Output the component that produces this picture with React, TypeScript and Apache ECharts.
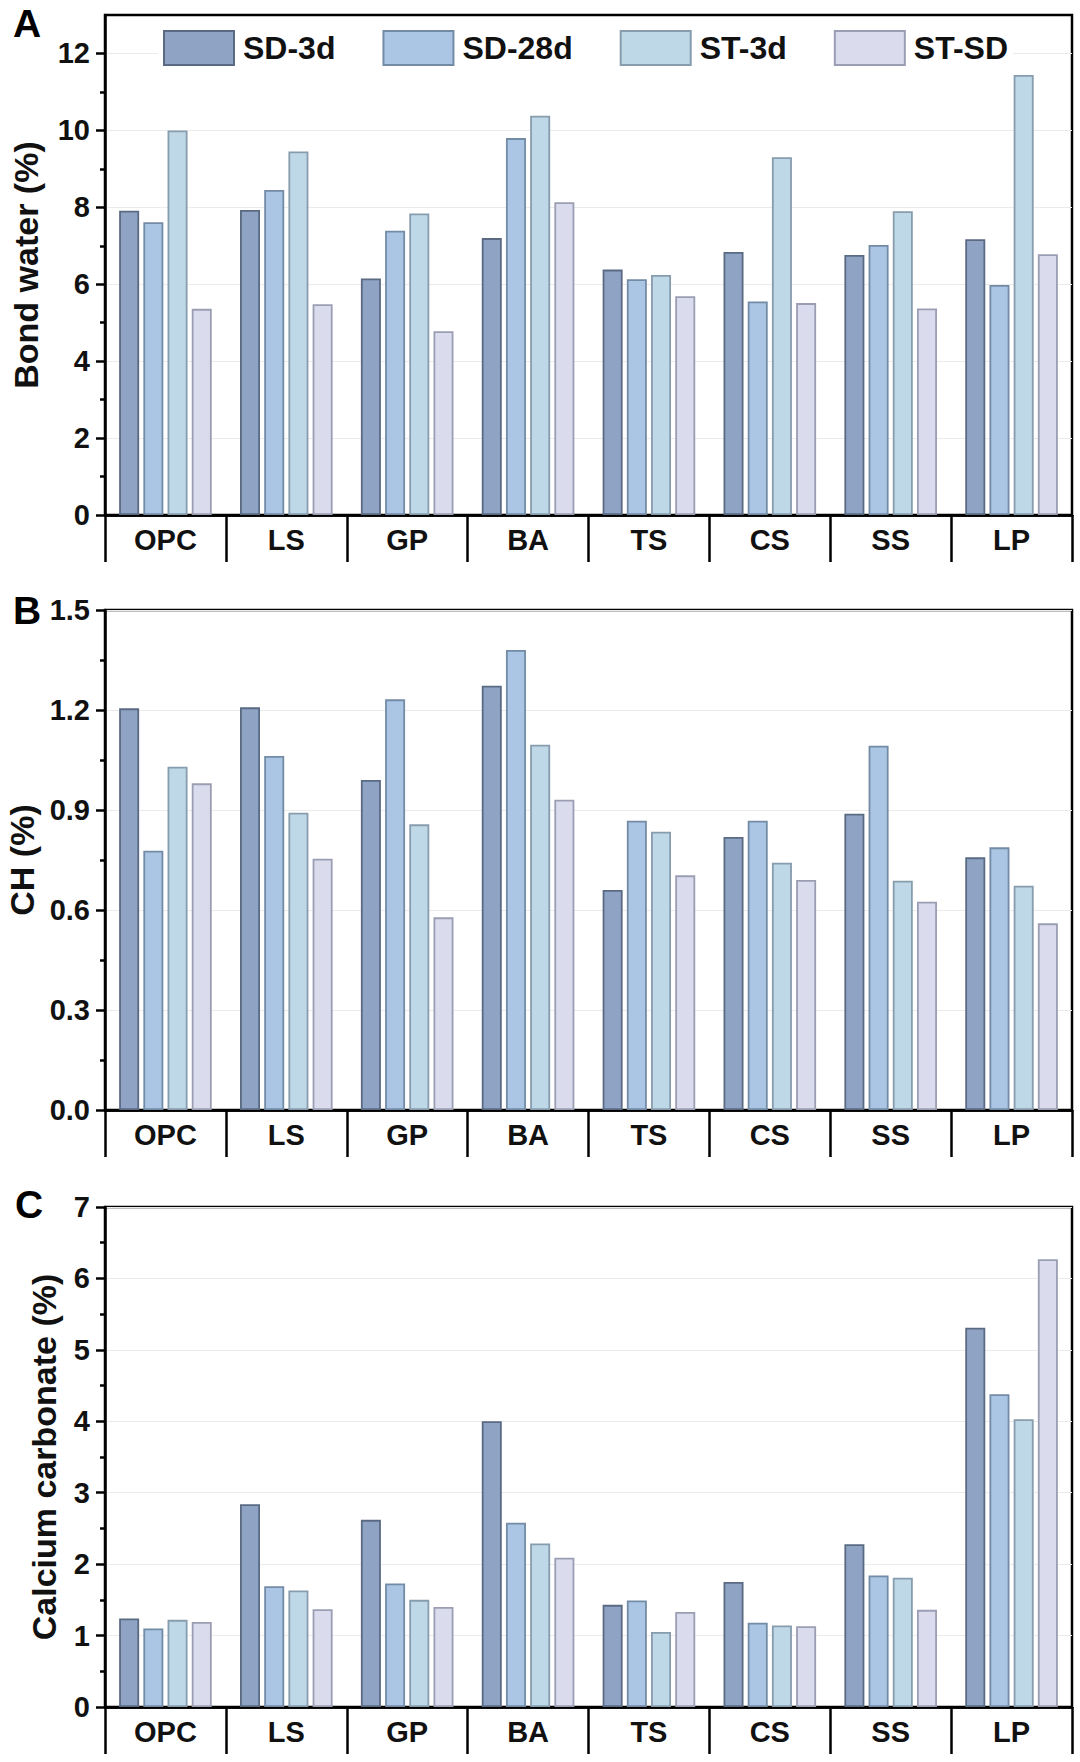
import React, { useEffect, useRef } from "react";
import * as echarts from "echarts";

const categories = ["OPC", "LS", "GP", "BA", "TS", "CS", "SS", "LP"];
const seriesNames = ["SD-3d", "SD-28d", "ST-3d", "ST-SD"];

// Panel A: Bond water (%)
const bondSD3d = [7.91, 7.93, 6.15, 7.2, 6.38, 6.84, 6.76, 7.17];
const bondSD28d = [7.61, 8.45, 7.39, 9.8, 6.13, 5.55, 7.02, 5.98];
const bondST3d = [10.0, 9.45, 7.84, 10.38, 6.24, 9.3, 7.9, 11.44];
const bondSTSD = [5.36, 5.48, 4.78, 8.13, 5.69, 5.51, 5.37, 6.78];

// Panel B: CH (%)
const chSD3d = [1.205, 1.208, 0.99, 1.273, 0.66, 0.819, 0.889, 0.758];
const chSD28d = [0.778, 1.062, 1.232, 1.38, 0.868, 0.868, 1.093, 0.788];
const chST3d = [1.03, 0.892, 0.857, 1.096, 0.835, 0.742, 0.688, 0.673];
const chSTSD = [0.98, 0.754, 0.578, 0.931, 0.704, 0.69, 0.625, 0.56];

// Panel C: Calcium carbonate (%)
const ccSD3d = [1.24, 2.84, 2.62, 4.0, 1.43, 1.75, 2.28, 5.31];
const ccSD28d = [1.1, 1.69, 1.73, 2.58, 1.49, 1.18, 1.84, 4.38];
const ccST3d = [1.22, 1.63, 1.5, 2.29, 1.05, 1.14, 1.81, 4.03];
const ccSTSD = [1.19, 1.37, 1.4, 2.09, 1.33, 1.13, 1.36, 6.27];

// Tick values
const ticksA = [0, 2, 4, 6, 8, 10, 12];
const minorA = [1, 3, 5, 7, 9, 11];
const ticksB = [0, 0.3, 0.6, 0.9, 1.2, 1.5];
const minorB = [0.15, 0.45, 0.75, 1.05, 1.35];
const ticksC = [0, 1, 2, 3, 4, 5, 6, 7];
const minorC = [0.5, 1.5, 2.5, 3.5, 4.5, 5.5, 6.5];

const fills = ["#8fa4c4", "#aac6e4", "#bfd8e8", "#dadcee"];
const borders = ["#5a6a82", "#748ba6", "#879cad", "#9b9eb2"];

const FONT = 'Arial, "Liberation Sans", Helvetica, sans-serif';

export default function App() {
  const ref = useRef<HTMLDivElement>(null);

  useEffect(() => {
    if (!ref.current) return;
    const chart = echarts.init(ref.current, null, { renderer: "svg" });

    const panels = [
      {
        top: 15,
        max: 13,
        ticks: ticksA,
        minor: minorA,
        name: "Bond water (%)",
        nameGap: 62,
        fmt: (v: number) => String(Math.round(v)),
        data: [bondSD3d, bondSD28d, bondST3d, bondSTSD],
      },
      {
        top: 610,
        max: 1.5,
        ticks: ticksB,
        minor: minorB,
        name: "CH (%)",
        nameGap: 66,
        fmt: (v: number) => v.toFixed(1),
        data: [chSD3d, chSD28d, chST3d, chSTSD],
      },
      {
        top: 1207,
        max: 7,
        ticks: ticksC,
        minor: minorC,
        name: "Calcium carbonate (%)",
        nameGap: 44,
        fmt: (v: number) => String(Math.round(v)),
        data: [ccSD3d, ccSD28d, ccST3d, ccSTSD],
      },
    ];

    const grid: any[] = [];
    const xAxis: any[] = [];
    const yAxis: any[] = [];
    const series: any[] = [];

    panels.forEach((p, i) => {
      grid.push({
        left: 105,
        right: 8,
        top: p.top,
        height: 500,
        outerBoundsMode: "none",
        containLabel: false,
        show: true,
        borderColor: "#000",
        borderWidth: 2.5,
        backgroundColor: "transparent",
      });
      xAxis.push({
        type: "category",
        gridIndex: i,
        data: categories,
        boundaryGap: true,
        position: "bottom",
        axisLine: { show: true, lineStyle: { color: "#000", width: 2.5 } },
        axisTick: {
          show: true,
          interval: 0,
          alignWithLabel: false,
          length: 47,
          lineStyle: { color: "#000", width: 2.5 },
        },
        axisLabel: {
          show: true,
          interval: 0,
          margin: 10,
          color: "#111",
          fontSize: 29,
          fontWeight: "bold",
          fontFamily: FONT,
        },
        splitLine: { show: false },
      });
      xAxis.push({
        type: "category",
        gridIndex: i,
        data: categories,
        position: "bottom",
        offset: 47,
        axisLine: { show: true, lineStyle: { color: "#000", width: 2.5 } },
        axisTick: { show: false },
        axisLabel: { show: false },
        splitLine: { show: false },
      });
      yAxis.push({
        type: "value",
        gridIndex: i,
        min: 0,
        max: p.max,
        position: "left",
        name: p.name,
        nameLocation: "middle",
        nameRotate: 90,
        nameGap: p.nameGap,
        nameTextStyle: {
          color: "#111",
          fontSize: 34,
          fontWeight: "bold",
          fontFamily: FONT,
        },
        axisLine: { show: true, lineStyle: { color: "#000", width: 2.5 } },
        axisTick: {
          show: true,
          inside: false,
          length: 9,
          customValues: p.ticks,
          lineStyle: { color: "#000", width: 2.5 },
        },
        axisLabel: {
          show: true,
          customValues: p.ticks,
          margin: 15,
          color: "#111",
          fontSize: 29,
          fontWeight: "bold",
          fontFamily: FONT,
          formatter: p.fmt,
        },
        splitLine: {
          show: true,
          lineStyle: { color: "#ebebeb", width: 1 },
        },
      });
      yAxis.push({
        type: "value",
        gridIndex: i,
        min: 0,
        max: p.max,
        position: "left",
        axisLine: { show: false },
        axisTick: {
          show: true,
          inside: false,
          length: 5,
          customValues: p.minor,
          lineStyle: { color: "#000", width: 2.5 },
        },
        axisLabel: { show: false, customValues: p.minor },
        splitLine: { show: false },
      });
      p.data.forEach((d, k) => {
        series.push({
          type: "bar",
          name: seriesNames[k],
          xAxisIndex: i * 2,
          yAxisIndex: i * 2,
          data: d,
          barWidth: 20,
          barGap: "21%",
          itemStyle: {
            color: fills[k],
            borderColor: borders[k],
            borderWidth: 1.8,
          },
        });
      });
    });

    const letters = [
      { t: "A", x: 13, y: 23 },
      { t: "B", x: 13, y: 610 },
      { t: "C", x: 15, y: 1204 },
    ];

    chart.setOption({
      animation: false,
      backgroundColor: "#fff",
      grid,
      xAxis,
      yAxis,
      series,
      legend: {
        data: seriesNames,
        left: 158,
        top: 30,
        orient: "horizontal",
        icon: "rect",
        itemWidth: 70,
        itemHeight: 34,
        itemGap: 47,
        padding: [0, 5],
        backgroundColor: "#fff",
        textStyle: {
          color: "#111",
          fontSize: 32,
          fontWeight: "bold",
          fontFamily: FONT,
          padding: [0, 0, 0, 4],
        },
      },
      graphic: letters.map((l) => ({
        type: "text",
        x: l.x,
        y: l.y,
        style: {
          text: l.t,
          fontSize: 39,
          fontWeight: "bold",
          fontFamily: FONT,
          fill: "#000",
          align: "left",
          verticalAlign: "middle",
        },
      })),
    });

    return () => chart.dispose();
  }, []);

  return (
    <div
      ref={ref}
      style={{ position: "absolute", left: 0, top: 0, width: 1080, height: 1762 }}
    />
  );
}
